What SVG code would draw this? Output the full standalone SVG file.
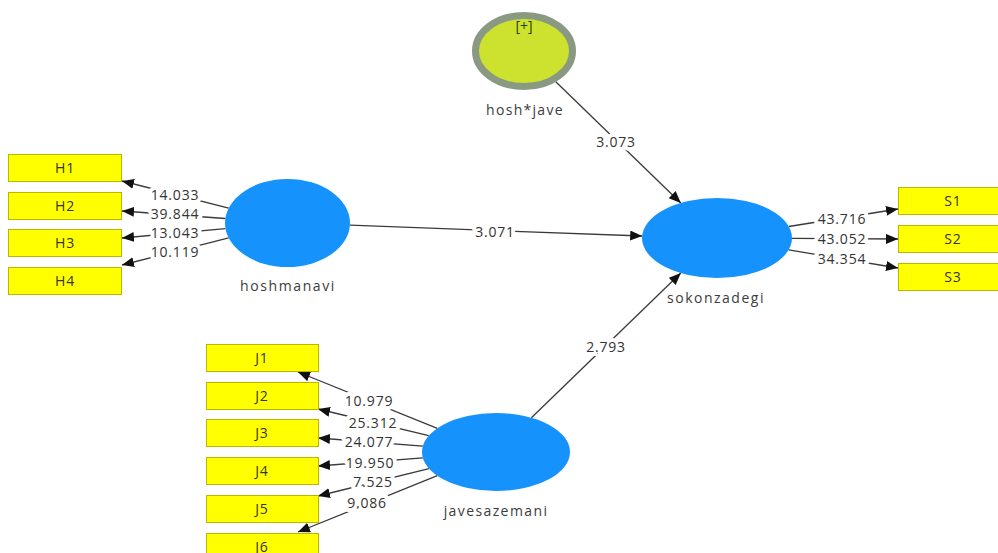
<svg xmlns="http://www.w3.org/2000/svg" width="998" height="553" viewBox="0 0 998 553">
  <defs>
    <marker id="arrow" markerUnits="userSpaceOnUse" markerWidth="13" markerHeight="11" refX="12" refY="5" orient="auto">
      <path d="M0,0 L12,5 L0,10 z" fill="#111"/>
    </marker>
    <style>
      .edge { stroke: #3a3a3a; stroke-width: 1.3; fill: none; marker-end: url(#arrow); }
      .num { font-family: "Open Sans", "DejaVu Sans", sans-serif; font-size: 14px; letter-spacing: 0.8px; fill: #333; text-anchor: middle; stroke: #fff; stroke-width: 8px; paint-order: stroke; stroke-linejoin: round; }
      .name { font-family: "Open Sans", "DejaVu Sans", sans-serif; font-size: 14px; letter-spacing: 1.5px; fill: #3c3c3c; text-anchor: middle; }
      .box { fill: #ffff00; stroke: #b8b800; stroke-width: 1; }
      .boxtxt { font-family: "Open Sans", "DejaVu Sans", sans-serif; font-size: 14px; letter-spacing: 0.8px; fill: #333; text-anchor: middle; }
      .lv { fill: #1592fc; }
    </style>
  </defs>

  <!-- connectors -->
  <g id="connectors">
    <!-- structural paths -->
    <line class="edge" x1="555.8" y1="81.8" x2="680.8" y2="203"/>
    <line class="edge" x1="350" y1="225.2" x2="642.2" y2="236"/>
    <line class="edge" x1="531.4" y1="417.8" x2="680.8" y2="273"/>
    <!-- hoshmanavi loadings -->
    <line class="edge" x1="228.7" y1="208.1" x2="122" y2="181"/>
    <line class="edge" x1="225.3" y1="218.5" x2="122" y2="211"/>
    <line class="edge" x1="225.5" y1="228.6" x2="122" y2="238"/>
    <line class="edge" x1="228.7" y1="237.9" x2="122" y2="265"/>
    <!-- sokonzadegi loadings -->
    <line class="edge" x1="788.8" y1="226.5" x2="898" y2="209"/>
    <line class="edge" x1="792" y1="238.4" x2="898" y2="239"/>
    <line class="edge" x1="788.6" y1="249.9" x2="898" y2="268"/>
    <!-- javesazemani loadings -->
    <line class="edge" x1="437.3" y1="428.3" x2="298" y2="372"/>
    <line class="edge" x1="428.7" y1="435.7" x2="318" y2="409"/>
    <line class="edge" x1="422.8" y1="446.2" x2="318" y2="438"/>
    <line class="edge" x1="422.8" y1="457.8" x2="318" y2="466"/>
    <line class="edge" x1="429" y1="468.6" x2="318" y2="496"/>
    <line class="edge" x1="437.3" y1="475.7" x2="298" y2="532"/>

    <!-- path coefficients -->
    <text class="num" x="616" y="147">3.073</text>
    <text class="num" x="495" y="237">3.071</text>
    <text class="num" x="606" y="352">2.793</text>
    <text class="num" x="175" y="200">14.033</text>
    <text class="num" x="175" y="219">39.844</text>
    <text class="num" x="175" y="238">13.043</text>
    <text class="num" x="175" y="257">10.119</text>
    <text class="num" x="842" y="224">43.716</text>
    <text class="num" x="842" y="244">43.052</text>
    <text class="num" x="842" y="264">34.354</text>
    <text class="num" x="369" y="406">10.979</text>
    <text class="num" x="373" y="428">25.312</text>
    <text class="num" x="369" y="447">24.077</text>
    <text class="num" x="370" y="468">19.950</text>
    <text class="num" x="373" y="487">7.525</text>
    <text class="num" x="367" y="508">9.086</text>
  </g>

  <!-- interaction term -->
  <g id="hosh-jave">
    <ellipse cx="524" cy="51" rx="48.5" ry="35.5" fill="#cce22e" stroke="#8a9a82" stroke-width="7"/>
    <text x="524" y="31" font-family="Open Sans, DejaVu Sans, sans-serif" font-size="14" fill="#2d3a10" text-anchor="middle">[+]</text>
    <text class="name" x="525" y="115" style="letter-spacing:1.3px">hosh*jave</text>
  </g>

  <g id="hoshmanavi">
    <ellipse class="lv" cx="287.5" cy="223" rx="62.5" ry="44"/>
    <text class="name" x="288" y="291" style="letter-spacing:1.6px">hoshmanavi</text>
  </g>

  <g id="sokonzadegi">
    <ellipse class="lv" cx="717" cy="238" rx="75" ry="40"/>
    <text class="name" x="716" y="303">sokonzadegi</text>
  </g>

  <g id="javesazemani">
    <ellipse class="lv" cx="496" cy="452" rx="74" ry="39"/>
    <text class="name" x="496" y="516" style="letter-spacing:1.4px">javesazemani</text>
  </g>

  <!-- indicators -->
  <g id="H1"><rect class="box" x="8.5" y="154.5" width="113" height="27"/><text class="boxtxt" x="65" y="173">H1</text></g>
  <g id="H2"><rect class="box" x="8.5" y="192.5" width="113" height="27"/><text class="boxtxt" x="65" y="211">H2</text></g>
  <g id="H3"><rect class="box" x="8.5" y="229.5" width="113" height="27"/><text class="boxtxt" x="65" y="248">H3</text></g>
  <g id="H4"><rect class="box" x="8.5" y="267.5" width="113" height="27"/><text class="boxtxt" x="65" y="286">H4</text></g>

  <g id="S1"><rect class="box" x="898.5" y="187.5" width="108" height="27"/><text class="boxtxt" x="953" y="206">S1</text></g>
  <g id="S2"><rect class="box" x="898.5" y="225.5" width="108" height="27"/><text class="boxtxt" x="953" y="244">S2</text></g>
  <g id="S3"><rect class="box" x="898.5" y="263.5" width="108" height="27"/><text class="boxtxt" x="953" y="282">S3</text></g>

  <g id="J1"><rect class="box" x="206.5" y="344.5" width="112" height="27"/><text class="boxtxt" x="262" y="363">J1</text></g>
  <g id="J2"><rect class="box" x="206.5" y="382.5" width="112" height="27"/><text class="boxtxt" x="262" y="401">J2</text></g>
  <g id="J3"><rect class="box" x="206.5" y="419.5" width="112" height="27"/><text class="boxtxt" x="262" y="438">J3</text></g>
  <g id="J4"><rect class="box" x="206.5" y="457.5" width="112" height="27"/><text class="boxtxt" x="262" y="476">J4</text></g>
  <g id="J5"><rect class="box" x="206.5" y="495.5" width="112" height="27"/><text class="boxtxt" x="262" y="514">J5</text></g>
  <g id="J6"><rect class="box" x="206.5" y="533.5" width="112" height="27"/><text class="boxtxt" x="262" y="552">J6</text></g>
</svg>
